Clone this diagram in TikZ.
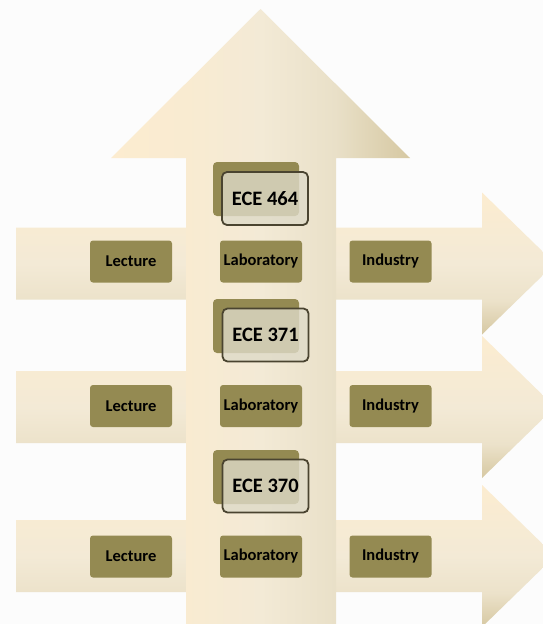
\documentclass[tikz,border=0pt]{standalone}
\usepackage{fontspec}
\setmainfont{Carlito}
\definecolor{boxolive}{RGB}{148,138,82}
\definecolor{creamlight}{RGB}{252,236,208}
\definecolor{creamdark}{RGB}{214,200,162}
\definecolor{creammid}{RGB}{243,234,214}
\definecolor{creamlow}{RGB}{236,226,202}
\definecolor{creamleft}{RGB}{249,235,209}
\definecolor{creamright}{RGB}{233,224,200}
\definecolor{frontfill}{RGB}{222,218,200}
\definecolor{frontdraw}{RGB}{74,68,48}
\pgfdeclareverticalshading{hArrowShading}{100bp}{color(0bp)=(creamdark); color(25bp)=(creamdark); color(37bp)=(creamlow); color(50bp)=(creammid); color(75bp)=(creamlight); color(100bp)=(creamlight)}
\pgfdeclarehorizontalshading{vArrowShading}{100bp}{color(0bp)=(creamlight); color(25bp)=(creamlight); color(37.5bp)=(creamleft); color(50bp)=(creammid); color(62.5bp)=(creamright); color(75bp)=(creamdark); color(100bp)=(creamdark)}
\tikzset{
  pill/.style={fill=boxolive, rounded corners=3pt, minimum width=82pt, minimum height=42pt,
    inner sep=0pt, font=\bfseries\fontsize{16.5}{16.5}\selectfont, text=black},
  eceback/.style={fill=boxolive, rounded corners=4pt, minimum width=86pt, minimum height=54pt, inner sep=0pt},
  ecefront/.style={fill=frontfill, fill opacity=0.8, text opacity=1, draw=frontdraw, line width=1.8pt,
    rounded corners=5pt, minimum width=86pt, minimum height=53pt, inner sep=0pt,
    font=\bfseries\fontsize{20.5}{20.5}\selectfont, text=black},
}
\begin{document}
\begin{tikzpicture}[x=1pt,y=-1pt]
\useasboundingbox (0,0) rectangle (543,624);
\fill[white!99!black] (0,0) rectangle (543,624);
\clip (0,0) rectangle (543,624);
% horizontal arrows
\foreach \c in {263.5,407,556}{
  \shade[shading=hArrowShading] (16,\c-36) -- (482,\c-36) -- (482,\c-71) -- (555,\c) -- (482,\c+71)
     -- (482,\c+36) -- (16,\c+36) -- cycle;
}
% vertical arrow
\shade[shading=vArrowShading]
  (186,630) -- (186,158) -- (111,158) -- (260.5,9) -- (410,158) -- (336,158) -- (336,630) -- cycle;
% row boxes
\node[pill] (lec1) at (131,261.5) {Lecture};
\node[pill] (lab1) at (261,261.5) {Laboratory};
\node[pill] (ind1) at (390.5,261.5) {Industry};
\node[pill] (lec2) at (131,406) {Lecture};
\node[pill] (lab2) at (261,406) {Laboratory};
\node[pill] (ind2) at (390.5,406) {Industry};
\node[pill] (lec3) at (131,556.5) {Lecture};
\node[pill] (lab3) at (261,556.5) {Laboratory};
\node[pill] (ind3) at (390.5,556.5) {Industry};
% course boxes
\node[eceback] (b464) at (256,189) {};
\node[ecefront] (f464) at (265,198.5) {ECE 464};
\node[eceback] (b371) at (256,326) {};
\node[ecefront] (f371) at (265.5,335) {ECE 371};
\node[eceback] (b370) at (256,477) {};
\node[ecefront] (f370) at (265.5,486) {ECE 370};
\end{tikzpicture}
\end{document}
